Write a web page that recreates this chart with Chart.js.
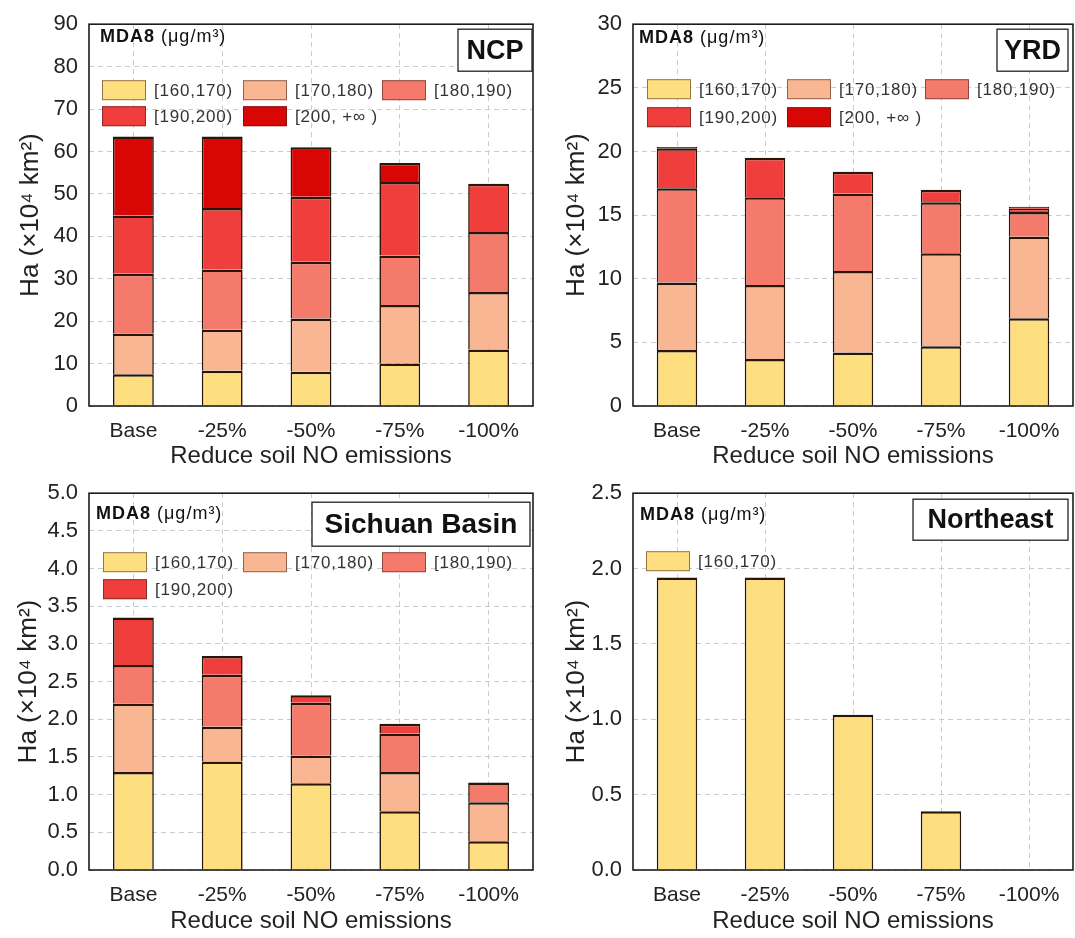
<!DOCTYPE html>
<html><head><meta charset="utf-8">
<script src="https://cdn.jsdelivr.net/npm/chart.js@4/dist/chart.umd.min.js"></script>
<style>
html,body{margin:0;padding:0;background:#fff;}
#wrap{position:relative;width:1075px;height:938px;overflow:hidden;}
canvas{position:absolute;}
</style></head><body><div id="wrap">
<canvas id="c1" width="537" height="469" style="left:0;top:0;width:537px;height:469px"></canvas>
<canvas id="c2" width="538" height="469" style="left:537px;top:0;width:538px;height:469px"></canvas>
<canvas id="c3" width="537" height="469" style="left:0;top:469px;width:537px;height:469px"></canvas>
<canvas id="c4" width="538" height="469" style="left:537px;top:469px;width:538px;height:469px"></canvas>
</div>
<script>
// ---------- data ----------
const categories = ['Base', '-25%', '-50%', '-75%', '-100%'];
const binLabels = ['[160,170)', '[170,180)', '[180,190)', '[190,200)', '[200, +\u221E )'];
const binColors = ['#FDDF80', '#F9B692', '#F47A6C', '#EF3E3C', '#D90606'];
const xTitle = 'Reduce soil NO emissions';
const yTitle = 'Ha (\u00D710\u2074 km\u00B2)';
const legendTitle = 'MDA8';
const legendUnit = ' (\u03BCg/m\u00B3)';

// NCP
const ncp160 = [7.5, 8.3, 8.1, 10.0, 13.3];
const ncp170 = [9.6, 9.7, 12.5, 13.8, 13.6];
const ncp180 = [14.1, 14.2, 13.4, 11.7, 14.1];
const ncp190 = [13.7, 14.5, 15.3, 17.3, 11.4];
const ncp200 = [18.6, 16.8, 11.7, 4.5, 0];
// YRD
const yrd160 = [4.4, 3.7, 4.2, 4.7, 6.9];
const yrd170 = [5.3, 5.8, 6.4, 7.3, 6.4];
const yrd180 = [7.4, 6.9, 6.1, 4.0, 1.95];
const yrd190 = [3.15, 3.1, 1.7, 1.0, 0.25];
const yrd200 = [0.1, 0, 0, 0, 0.15];
// Sichuan Basin
const scb160 = [1.30, 1.44, 1.15, 0.78, 0.38];
const scb170 = [0.91, 0.46, 0.37, 0.52, 0.52];
const scb180 = [0.51, 0.69, 0.70, 0.51, 0.26];
const scb190 = [0.63, 0.25, 0.10, 0.13, 0];
// Northeast
const ne160 = [1.94, 1.94, 1.03, 0.39, 0];

const yTicksNCP = {max: 90, step: 10, dec: 0};
const yTicksYRD = {max: 30, step: 5, dec: 0};
const yTicksSCB = {max: 5, step: 0.5, dec: 1};
const yTicksNE = {max: 2.5, step: 0.5, dec: 1};

// ---------- drawing ----------
const FONT = "'Liberation Sans', Arial, sans-serif";

const decorPlugin = {
  id: 'decor',
  afterDatasetsDraw(chart, args, o) {
    const {ctx, chartArea: a} = chart;
    ctx.save();
    // frame
    ctx.strokeStyle = '#1c1c1c';
    ctx.lineWidth = 1.6;
    ctx.strokeRect(a.left, a.top, a.right - a.left, a.bottom - a.top);
    // region label box
    const r = o.region;
    const bx0 = a.right + r.x0, bx1 = a.right + r.x1, by0 = a.top + r.y0, by1 = a.top + r.y1;
    ctx.fillStyle = '#fff';
    ctx.fillRect(bx0, by0, bx1 - bx0, by1 - by0);
    ctx.lineWidth = 1.3;
    ctx.strokeStyle = '#222';
    ctx.strokeRect(bx0, by0, bx1 - bx0, by1 - by0);
    ctx.fillStyle = '#111';
    ctx.font = 'bold ' + r.size + 'px ' + FONT;
    ctx.textAlign = 'center';
    ctx.textBaseline = 'middle';
    ctx.fillText(r.text, (bx0 + bx1) / 2, (by0 + by1) / 2 + 1);
    // legend title
    ctx.textAlign = 'left';
    ctx.letterSpacing = '1px';
    ctx.font = 'bold 18px ' + FONT;
    const tx = a.left + o.title.dx, ty = a.top + o.title.dy;
    ctx.fillText(legendTitle, tx, ty);
    const w1 = ctx.measureText(legendTitle).width;
    ctx.font = '18px ' + FONT;
    ctx.fillText(legendUnit, tx + w1, ty);
    // legend items
    ctx.font = '17px ' + FONT;
    ctx.letterSpacing = '0.8px';
    chart.data.datasets.forEach((ds, i) => {
      const col = i % 3, row = Math.floor(i / 3);
      const x = a.left + o.cols[col], y = a.top + o.rows[row];
      ctx.fillStyle = ds.backgroundColor;
      ctx.fillRect(x, y, 44, 20);
      ctx.strokeStyle = 'rgba(60,30,20,0.55)';
      ctx.lineWidth = 1;
      ctx.strokeRect(x + 0.5, y + 0.5, 43, 19);
      ctx.fillStyle = '#333';
      ctx.fillText(ds.label, x + 52, y + 11);
    });
    ctx.restore();
  }
};

function makePanel(id, series, yt, geo, deco) {
  const datasets = series.map((vals, i) => ({
    label: binLabels[i],
    data: vals,
    backgroundColor: binColors[i],
    borderColor: '#2a1608',
    borderWidth: {top: 2.5, left: 1.6, right: 1.6, bottom: 0},
    borderSkipped: 'start',
    barPercentage: 0.46,
    categoryPercentage: 1.0
  }));
  new Chart(document.getElementById(id), {
    type: 'bar',
    data: {labels: categories, datasets},
    plugins: [decorPlugin],
    options: {
      responsive: false,
      animation: false,
      events: [],
      layout: {padding: {top: geo.top, right: geo.right, left: 0, bottom: 0}},
      plugins: {
        legend: {display: false},
        tooltip: {enabled: false},
        decor: deco
      },
      scales: {
        x: {
          stacked: true,
          afterFit: s => { s.height = geo.xh; },
          grid: {offset: false, color: '#c6ccd6', lineWidth: 1, drawTicks: false},
          border: {display: false, dash: [5, 4]},
          ticks: {color: '#222', padding: 13, font: {family: FONT, size: 21}},
          title: {display: true, text: xTitle, color: '#222',
            font: {family: FONT, size: 24, lineHeight: 1}, padding: {top: 0, bottom: geo.xtp}}
        },
        y: {
          stacked: true,
          min: 0, max: yt.max,
          afterFit: s => { s.width = geo.yw; },
          grid: {color: '#c6ccd6', lineWidth: 1, drawTicks: false},
          border: {display: false, dash: [5, 4]},
          ticks: {stepSize: yt.step, color: '#222', padding: 11,
            font: {family: FONT, size: 22},
            callback: v => Number(v).toFixed(yt.dec)},
          title: {display: true, text: yTitle, color: '#222',
            font: {family: FONT, size: 26, lineHeight: 1.2}, padding: {top: geo.ytp, bottom: 0}}
        }
      }
    }
  });
}

makePanel('c1', [ncp160, ncp170, ncp180, ncp190, ncp200], yTicksNCP,
  {top: 23, right: 4, xh: 63, yw: 89, xtp: 0.5, ytp: 15},
  {title: {dx: 11, dy: 13}, cols: [13, 154, 293], rows: [56, 82],
   region: {x0: -75, x1: -1, y0: 5, y1: 47, text: 'NCP', size: 27}});

makePanel('c2', [yrd160, yrd170, yrd180, yrd190, yrd200], yTicksYRD,
  {top: 23, right: 2, xh: 63, yw: 96, xtp: 0.5, ytp: 24},
  {title: {dx: 6, dy: 14}, cols: [14, 154, 292], rows: [55, 83],
   region: {x0: -76, x1: -5, y0: 5, y1: 47, text: 'YRD', size: 27}});

makePanel('c3', [scb160, scb170, scb180, scb190], yTicksSCB,
  {top: 18, right: 4, xh: 68, yw: 89, xtp: 4.5, ytp: 13},
  {title: {dx: 7, dy: 21}, cols: [14, 154, 293], rows: [59, 86],
   region: {x0: -221, x1: -3, y0: 9, y1: 53, text: 'Sichuan Basin', size: 28}});

makePanel('c4', [ne160], yTicksNE,
  {top: 17, right: 2, xh: 68, yw: 96, xtp: 4.5, ytp: 24},
  {title: {dx: 7, dy: 22}, cols: [13, 154, 293], rows: [58, 86],
   region: {x0: -160, x1: -5, y0: 6, y1: 47, text: 'Northeast', size: 27}});
</script>
</body></html>
